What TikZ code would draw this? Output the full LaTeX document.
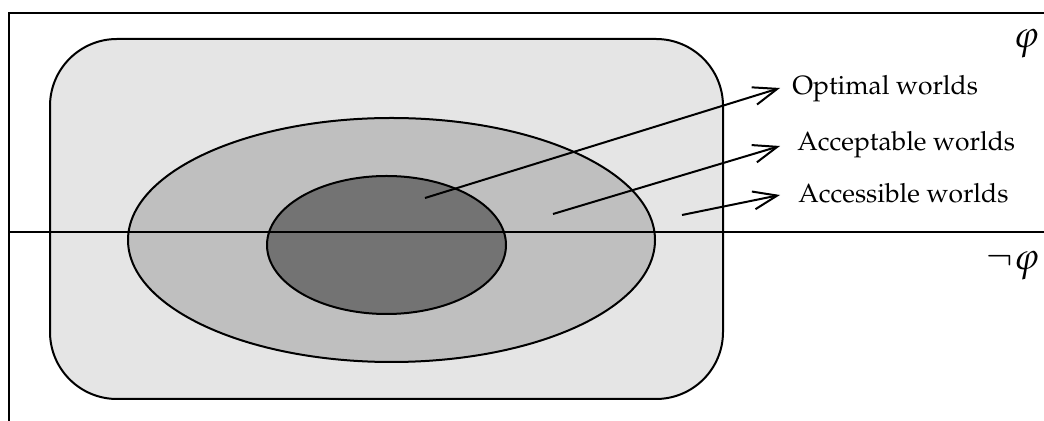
\documentclass[tikz,border=0pt]{standalone}
\usepackage[T1]{fontenc}
\usepackage{mathpazo}
\usetikzlibrary{arrows.meta,shapes.geometric}

\begin{document}
\begin{tikzpicture}[x=0.5pt,y=-0.5pt,
  frameline/.style={line width=1.1pt},
  region/.style={draw,line width=1pt,inner sep=0pt},
  pointer/.style={line width=1pt,-{Straight Barb[length=12pt,width=9pt,line width=1pt]}},
  lab/.style={anchor=base west,inner sep=0pt,font=\fontsize{13.2}{15}\selectfont},
  mlab/.style={anchor=base west,inner sep=0pt,font=\fontsize{19}{22}\selectfont}]
\useasboundingbox (0,0) rectangle (1044,421);

% accessible worlds: rounded box
\node[region,rectangle,rounded corners=33.5pt,fill=black!10,
      minimum width=336.5pt,minimum height=180pt] (acc) at (386.5,219) {};
% acceptable worlds
\node[region,ellipse,fill=black!25,minimum width=263.5pt,minimum height=122pt] (accept) at (391.5,240) {};
% optimal worlds
\node[region,ellipse,fill=black!55,minimum width=119.5pt,minimum height=69pt] (opt) at (386.5,245) {};

% frame and the phi / not-phi divide
\coordinate (tl) at (9,13);
\coordinate (tr) at (1044,13);
\coordinate (bl) at (9,421);
\coordinate (ml) at (9,232);
\coordinate (mr) at (1044,232);
\draw[frameline] (bl) -- (tl) -- (tr);
\draw[frameline] (ml) -- (mr);

% labels
\node[lab] (lopt) at (792,95) {Optimal worlds};
\node[lab] (lacpt) at (797,151) {Acceptable worlds};
\node[lab] (lacs) at (798,203) {Accessible worlds};
\node[mlab] (phi) at (1013,48) {$\varphi$};
\node[mlab] (nphi) at (986,270) {$\neg\varphi$};

% pointers
\coordinate (s1) at (425,198);
\coordinate (e1) at (780,88);
\coordinate (s2) at (553,214);
\coordinate (e2) at (780,146);
\coordinate (s3) at (682,215);
\coordinate (e3) at (780,195);
\draw[pointer] (s1) -- (e1);
\draw[pointer] (s2) -- (e2);
\draw[pointer] (s3) -- (e3);
\end{tikzpicture}
\end{document}
